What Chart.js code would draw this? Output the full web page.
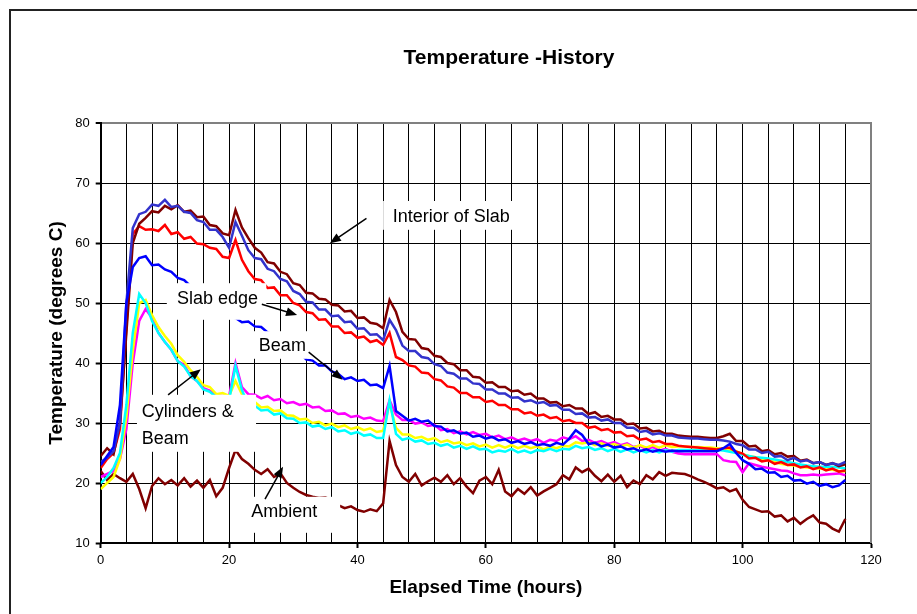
<!DOCTYPE html>
<html>
<head>
<meta charset="utf-8">
<title>Temperature -History</title>
<script src="https://cdn.jsdelivr.net/npm/chart.js@4.4.1/dist/chart.umd.min.js"></script>
<style>
    html, body { margin: 0; padding: 0; background: #ffffff; }
    #wrap { position: relative; width: 917px; height: 614px; }
</style>
</head>
<body>
<div id="wrap"><canvas id="chartjs-0"></canvas></div>
<script>
// Elapsed time (hours), one reading per hour
var hours = [0,1,2,3,4,5,6,7,8,9,10,11,12,13,14,15,16,17,18,19,20,21,22,23,24,25,26,27,28,29,
    30,31,32,33,34,35,36,37,38,39,40,41,42,43,44,45,46,47,48,49,50,51,52,53,54,55,56,57,58,59,
    60,61,62,63,64,65,66,67,68,69,70,71,72,73,74,75,76,77,78,79,80,81,82,83,84,85,86,87,88,89,
    90,91,92,93,94,95,96,97,98,99,100,101,102,103,104,105,106,107,108,109,110,111,112,113,114,115,116];

// Temperatures (degrees C)
var slabInteriorA = [24.5,25.8,24.8,30,45,60,63.2,64.2,65.3,65.1, 66.2,65.6,66.3,65.2,65.4,64.3,64.4,63,62.8,61.6,
    61.3,65.5,62.6,60.8,59.2,58.4,56.8,56.6,55.2,54.8, 53.3,53,51.7,51.6,50.7,50.6,49.7,49.6,48.6,48.7,
    47.5,47.6,46.7,46.5,45.8,50.5,48.5,45.2,44,43.9, 42.5,42.3,41.2,41,40,39.8,38.8,38.8,37.7,37.6,
    36.7,36.8,36,36,35.3,35.4,34.7,34.9,34.1,34.1, 33.4,33.5,32.8,33,32.4,32.4,31.5,31.8,31,31.2,
    30.6,30.6,29.8,29.9,29.1,29.2,28.6,28.7,28.2,28.2, 27.9,27.8,27.7,27.7,27.6,27.5,27.5,27.8,28.2,27,
    27,26.1,26.2,25.3,25.5,24.8,25,24.4,24.5,23.7, 23.9,23.3,23.5,23,23.3,22.8,23.1];
var slabInteriorB = [23.5,24.2,25.3,30,50,62.5,64.8,65.2,66.4,66.2, 67.2,66,66.2,65.2,65,63.8,63.5,62.2,62.2,61,
    59.2,63.5,61.2,58.8,57.5,57.3,55.7,55.3,54,53.6, 52,51.5,50.2,50.1,48.9,48.9,47.8,47.9,46.8,46.9,
    45.7,45.8,44.7,44.8,43.8,47.2,45.5,42.9,42,42, 41,40.8,39.8,39.5,38.4,38.2,37.4,37.4,36.6,36.5,
    35.6,35.6,34.9,34.9,34.2,34.3,33.6,33.8,33.3,33.5, 32.9,33,32.2,32.2,31.5,31.6,30.9,31,30.4,30.6,
    30,30,29.2,29.2,28.5,28.7,28.1,28.3,27.9,27.9, 27.6,27.5,27.4,27.4,27.3,27.2,27.2,27.1,26.9,26.5,
    26.3,25.6,25.6,25,25.2,24.4,24.5,23.8,24.2,23.6, 23.8,23.3,23.5,23,23.3,23,23.5];
var slabEdge = [22.5,24,25,29,46,61.5,62.8,62.2,62.3,62, 63,61.5,61.8,60.7,61,59.9,59.8,59.2,59,57.7,
    57.5,60.5,57.2,55.3,54,53.8,52.5,52.6,51.3,51.3, 50,49.6,48.5,48.3,47.2,47.3,46.1,46.1,45,45.1,
    44.2,44.4,43.5,43.8,43,45,41,40.5,39.6,39.4, 38.4,38.3,37.3,37.1,36.1,35.9,35,35,34.3,34.3,
    33.5,33.7,33,33,32.3,32.3,31.6,31.8,31.2,31.4, 30.8,31,30.3,30.5,30,30,29.2,29.4,28.8,29,
    28.4,28.5,27.8,27.9,27.2,27.4,26.8,27,26.5,26.5, 26.2,26.1,26,25.9,25.8,25.7,25.6,25.8,25.9,25.2,
    24.9,24.1,24.2,23.6,23.8,23.2,23.5,23,23.1,22.6, 22.8,22.3,22.6,22.1,22.4,21.9,22.1];
var beam = [23,24.5,26,33,50,56,57.5,57.8,56.3,56.4, 55.6,55.2,54.2,53.8,52.8,52.2,50.8,50.2,49.1,48.7,
    47.6,47.5,46.8,46.9,46.1,46,45.1,44.7,43.6,43.2, 42.1,41.7,40.6,40.4,39.6,39.6,38.6,38.2,37.3,37.6,
    37,37.2,36.3,36.4,35.8,39.5,32,31.2,30.4,30.7, 30.2,30.4,29.5,29.4,28.6,28.8,28.2,28.4,27.7,27.9,
    27.4,27.7,27.1,27.3,26.7,27,26.5,26.8,26.3,26.5, 26.2,26.7,26.4,27.4,28.8,28,26.5,26.7,26.1,26.4,
    25.9,26.1,25.6,25.8,25.3,25.6,25.2,25.5,25.2,25.4, 25.3,25.3,25.3,25.3,25.3,25.3,25.3,25.8,26.5,25,
    23.8,23.2,22.3,22.4,21.7,21.8,21,21.2,20.4,20.5, 19.9,20.2,19.5,19.8,19.3,19.6,20.5];
var cylinderMagenta = [21,21.5,22,24,29,40,47,49,47.5,45, 43.5,42.2,40.3,39.7,37.8,37,35.8,35.4,34.6,34.5,
    34.5,40,36,34.8,34.7,34.1,34.5,33.8,34,33.3, 33.5,33,33.2,32.6,32.7,32,32.1,31.5,31.6,31,
    31.2,30.7,30.9,30.4,30.3,33.8,31.4,30.5,30.5,29.9, 30.1,29.5,29.7,28.8,29,28.3,28.6,28.1,28.5,28,
    28.2,27.6,27.9,27.3,27.6,27.1,27.4,27,27.3,26.7, 27.2,27,27.6,27.3,27.8,27,27.2,26.7,27,26.5,
    26.8,26.3,26.6,26,26.2,25.7,26,25.4,25.7,25.2, 24.9,24.8,24.8,24.8,24.8,24.8,24.8,23.8,23.6,23.5,
    21.8,23.3,23,22.7,22.5,22.3,22.1,22,21.6,21.3, 21.3,21.4,21.3,21.4,21.5,21.6,21.3];
var cylinderYellow = [19,20,21,24,31,42,50,50.5,48,46, 44.5,43.2,41.3,40.2,38.8,37.7,36.3,36,34.8,35,
    34.5,37,34.8,33.8,33.5,32.6,32.7,32,32.1,31.3, 31.2,30.6,30.7,30,30.2,29.6,29.9,29.3,29.6,29,
    29.3,28.8,29.1,28.5,28.7,33.3,29.2,28.1,28.1,27.5, 27.7,27.2,27.5,26.8,27.1,26.6,26.8,26.3,26.6,26.1,
    26.4,25.9,26.3,25.9,26.3,25.8,26.2,25.8,26.1,25.6, 26.1,25.8,26.2,26.1,26.8,26.6,26.8,26.3,26.6,26.2,
    26.5,26.1,26.4,25.9,26.3,25.9,26.3,25.9,26.3,26, 26.1,26.1,26,26,25.9,25.9,25.8,25.6,25.5,25.3,
    24.8,24.5,24.3,24,23.8,23.5,23.2,23,22.9,22.7, 22.6,22.5,22.4,22.3,22.2,22,21.9];
var cylinderCyan = [20,21,22.5,25,33,45,51.5,50,47,45, 43.5,42.2,40.3,39.4,37.8,37,35.6,35.2,34.3,34.2,
    33.8,39.5,35.5,33,32.9,32.1,32.2,31.4,31.6,30.8, 30.7,30,30.1,29.4,29.6,29,29.3,28.6,28.8,28.2,
    28.5,27.9,28.1,27.5,27.5,33.8,28.2,27.2,27.5,26.9, 27.1,26.5,26.7,26.2,26.5,25.9,26.2,25.7,26.1,25.6,
    25.7,25.1,25.4,25.2,25.7,25.1,25.4,25,25.5,25.3, 25.7,25.3,25.7,25.6,26.2,25.8,26,25.5,25.8,25.3,
    25.7,25.2,25.6,25.1,25.5,25.1,25.5,25.1,25.5,25.2, 25.5,25.5,25.5,25.5,25.5,25.5,25.5,25.4,25.2,25,
    24.7,24.5,24.3,24.2,24.1,23.9,23.7,23.5,23.3,23.1, 22.9,22.8,22.7,22.7,22.7,22.6,22.4];
var ambient = [22,20.5,21.5,20.8,20.2,21.5,19,15.8,19.5,20.8, 19.8,20.5,19.6,20.8,19.4,20.4,19.2,20.5,17.8,19.2,
    22.5,25.5,24,23.2,22.2,21.5,22.3,21,21.6,20, 19.2,18.5,18,17.7,17.5,17.6,17.2,16.3,15.8,16.1,
    15.5,15.2,15.6,15.3,16.6,27,23,21,20.2,21.5, 19.6,20.3,20.9,20.2,21.3,19.8,20.8,19.4,18.3,20.4,
    21,19.8,22.2,18.6,17.8,19,18.2,19.3,17.9,18.6, 19.2,19.8,21.3,20.6,22.6,21.8,22.4,21.2,20.3,21.4,
    20.2,21.2,19.3,20.4,19.8,21.3,20.6,21.8,21.2,21.7, 21.6,21.5,21.1,20.6,20.2,19.7,19.1,19.3,18.6,19,
    17.2,16,15.6,15.2,15.3,14.4,14.6,13.6,14.2,13.2, 14,14.6,13.4,13.2,12.4,11.9,14];

// Call-out labels, placed in data units (hours, degrees C)
var callouts = [
    { lines: ["Interior of Slab"], cx: 54.6, cy: [64.4], box: [44.0, 67.0, 65.3, 62.2], arrow: [41.4, 64.1, 35.7, 59.95] },
    { lines: ["Slab edge"], cx: 18.2, cy: [50.6], box: [10.3, 53.3, 25.8, 47.2], arrow: [25.1, 49.8, 30.6, 48.0] },
    { lines: ["Beam"], cx: 28.3, cy: [42.9], box: [23.6, 45.3, 32.9, 40.7], arrow: [32.4, 41.8, 37.7, 37.2] },
    { lines: ["Cylinders &", "Beam"], left: 6.4, cy: [31.9, 27.3], box: [5.65, 34.7, 24.2, 25.2], arrow: [10.5, 34.7, 15.6, 38.95] },
    { lines: ["Ambient"], cx: 28.6, cy: [15.1], box: [21.1, 17.7, 37.3, 11.7], arrow: [25.6, 17.3, 28.4, 22.7] }
];

function pts(values) {
    var out = [];
    for (var i = 0; i < hours.length; i++) {
        out.push({ x: hours[i], y: values[i] });
    }
    return out;
}

function line(label, values, color) {
    return { label: label, data: pts(values), borderColor: color, backgroundColor: color,
             borderWidth: 2.5, pointRadius: 0, fill: false, tension: 0 };
}

var FONT = "'Liberation Sans', Arial, Helvetica, sans-serif";

// frame, title, right border and the call-out boxes
var decorations = {
    id: 'decorations',
    beforeDraw: function(chart) {
        var ctx = chart.ctx;
        ctx.save();
        ctx.fillStyle = '#ffffff';
        ctx.fillRect(0, 0, chart.width, chart.height);
        ctx.strokeStyle = '#222222';
        ctx.lineWidth = 2;
        ctx.strokeRect(10, 10, chart.width + 20, chart.height + 20);
        ctx.fillStyle = '#000000';
        ctx.font = 'bold 21px ' + FONT;
        ctx.textAlign = 'center';
        ctx.textBaseline = 'middle';
        ctx.fillText('Temperature -History', 509, 58);
        ctx.restore();
    },
    beforeDatasetsDraw: function(chart) {
        var ctx = chart.ctx, a = chart.chartArea;
        ctx.save();
        ctx.strokeStyle = '#808080';
        ctx.lineWidth = 2;
        ctx.beginPath();
        ctx.moveTo(a.right, a.top - 1);
        ctx.lineTo(a.right, a.bottom);
        ctx.stroke();
        ctx.restore();
    },
    afterDatasetsDraw: function(chart) {
        var ctx = chart.ctx, xs = chart.scales.x, ys = chart.scales.y;
        ctx.save();
        for (var i = 0; i < callouts.length; i++) {
            var c = callouts[i];
            var bx1 = xs.getPixelForValue(c.box[0]), by1 = ys.getPixelForValue(c.box[1]);
            var bx2 = xs.getPixelForValue(c.box[2]), by2 = ys.getPixelForValue(c.box[3]);
            ctx.fillStyle = '#ffffff';
            ctx.fillRect(bx1, by1, bx2 - bx1, by2 - by1);

            ctx.fillStyle = '#000000';
            ctx.font = '18px ' + FONT;
            ctx.textBaseline = 'middle';
            for (var j = 0; j < c.lines.length; j++) {
                var ty = ys.getPixelForValue(c.cy[j]);
                if (c.left !== undefined) {
                    ctx.textAlign = 'left';
                    ctx.fillText(c.lines[j], xs.getPixelForValue(c.left), ty);
                } else {
                    ctx.textAlign = 'center';
                    ctx.fillText(c.lines[j], xs.getPixelForValue(c.cx), ty);
                }
            }

            // arrow
            var x1 = xs.getPixelForValue(c.arrow[0]), y1 = ys.getPixelForValue(c.arrow[1]);
            var x2 = xs.getPixelForValue(c.arrow[2]), y2 = ys.getPixelForValue(c.arrow[3]);
            var ang = Math.atan2(y2 - y1, x2 - x1);
            ctx.strokeStyle = '#000000';
            ctx.lineWidth = 1.5;
            ctx.beginPath();
            ctx.moveTo(x1, y1);
            ctx.lineTo(x2 - 6 * Math.cos(ang), y2 - 6 * Math.sin(ang));
            ctx.stroke();
            ctx.beginPath();
            ctx.moveTo(x2, y2);
            ctx.lineTo(x2 - 11 * Math.cos(ang) + 4.5 * Math.sin(ang), y2 - 11 * Math.sin(ang) - 4.5 * Math.cos(ang));
            ctx.lineTo(x2 - 11 * Math.cos(ang) - 4.5 * Math.sin(ang), y2 - 11 * Math.sin(ang) + 4.5 * Math.cos(ang));
            ctx.closePath();
            ctx.fill();
        }
        ctx.restore();
    }
};

// first dataset is drawn on top
var chart0 = new Chart(document.getElementById('chartjs-0'), {
    type: 'line',
    data: {
        datasets: [
            line('Beam', beam, '#0000ff'),
            line('Slab interior 2', slabInteriorB, '#3333cc'),
            line('Slab interior 1', slabInteriorA, '#800000'),
            line('Slab edge', slabEdge, '#ff0000'),
            line('Cylinder 3', cylinderCyan, '#00ffff'),
            line('Cylinder 2', cylinderYellow, '#ffff00'),
            line('Cylinder 1', cylinderMagenta, '#ff00ff'),
            line('Ambient', ambient, '#800000')
        ]
    },
    options: {
        responsive: true,
        maintainAspectRatio: false,
        animation: false,
        layout: { padding: { top: 123, right: 46, bottom: 0, left: 0 } },
        plugins: { legend: { display: false }, tooltip: { enabled: false }, title: { display: false } },
        scales: {
            x: {
                type: 'linear', min: 0, max: 120,
                afterFit: function(s) { s.height = 71; },
                ticks: {
                    stepSize: 4, autoSkip: false, maxRotation: 0, padding: 5,
                    color: '#000000', font: { family: FONT, size: 13 },
                    callback: function(v) { return v % 20 === 0 ? String(v) : ''; }
                },
                grid: {
                    color: function(c) { return c.tick && c.tick.value === 120 ? 'rgba(0,0,0,0)' : '#000000'; },
                    lineWidth: 1, tickLength: 5, tickWidth: 2,
                    tickColor: function(c) { return c.tick && c.tick.value % 20 === 0 ? '#000000' : 'rgba(0,0,0,0)'; }
                },
                border: { display: true, color: '#000000', width: 2 },
                title: { display: true, text: 'Elapsed Time (hours)', color: '#000000',
                         font: { family: FONT, size: 19, weight: 'bold' }, padding: { top: 0, bottom: 14.6 } }
            },
            y: {
                min: 10, max: 80,
                afterFit: function(s) { s.width = 100.7; },
                ticks: { stepSize: 10, padding: 6, color: '#000000', font: { family: FONT, size: 13 } },
                grid: {
                    color: function(c) { return c.tick && c.tick.value === 80 ? '#808080' : '#000000'; },
                    lineWidth: function(c) { return c.tick && c.tick.value === 80 ? 2 : 1; },
                    tickLength: 5, tickWidth: 2, tickColor: '#000000'
                },
                border: { display: true, color: '#000000', width: 2 },
                title: { display: true, text: 'Temperature (degrees C)', color: '#000000',
                         font: { family: FONT, size: 19, weight: 'bold' }, padding: { top: 45.6, bottom: 0 } }
            }
        }
    },
    plugins: [decorations]
});
</script>
</body>
</html>
